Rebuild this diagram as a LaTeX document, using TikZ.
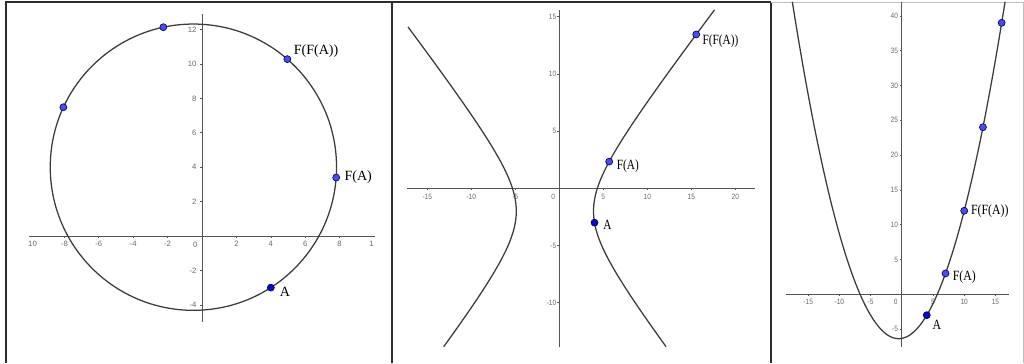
\documentclass[tikz,border=0pt]{standalone}
\usepackage{fontspec}
\setmainfont{Liberation Serif}
\setsansfont{Liberation Sans}
\usetikzlibrary{positioning}
\definecolor{curvegray}{RGB}{60,60,60}
\definecolor{axisgray}{RGB}{85,85,85}
\definecolor{numgray}{RGB}{105,105,105}
\definecolor{framegray}{RGB}{45,45,45}
\definecolor{ptblue}{RGB}{75,75,240}
\definecolor{ptdark}{RGB}{10,10,200}
\tikzset{
  curve/.style={draw=curvegray,line width=0.9pt},
  axis/.style={draw=axisgray,line width=0.45pt},
  num/.style={font=\sffamily\fontsize{5.5}{6}\selectfont,text=numgray,inner sep=0pt},
  pt/.style={circle,fill=#1,draw=black!60!blue,line width=0.45pt,inner sep=0pt,minimum size=1.75mm},
  pt/.default=ptblue,
  lbl/.style={font=\fontsize{10}{11}\selectfont,inner sep=0pt},
  frame/.style={draw=framegray,line width=1.4pt},
}
\begin{document}
\begin{tikzpicture}[x=0.025cm,y=0.025cm]
  \useasboundingbox (0,0) rectangle (1024,363);
  % panel frames
  \draw[frame] (6,0) -- (6,361) -- (771,361);
  \draw[frame] (392,0) -- (392,361);
  \draw[frame] (771,0) -- (771,361);
  \draw[black!25,line width=0.7pt] (771,361) -- (1023,361) -- (1023,0);

  % circle
  \begin{scope}[shift={(202,127)},x=0.43cm,y=0.43cm]
    \draw[axis] (-10.06,0) -- (10.06,0);
    \draw[axis] (0,-5) -- (0,12.9);
    \foreach \x in {-8,-6,-4,-2,2,4,6,8}{
      \draw[axis] (\x,0) -- ++(0,-0.05cm);
      \node[num] at ([yshift=-0.2cm]\x,0) {\x};
    }
    \node[num] at ([yshift=-0.2cm]-9.85,0) {10};
    \node[num] at ([yshift=-0.2cm]9.85,0) {1};
    \foreach \y in {-4,-2,2,4,6,8,10,12}{
      \draw[axis] (0,\y) -- ++(-0.05cm,0);
      \node[num,anchor=east] at ([xshift=-0.13cm]0,\y) {\y};
    }
    \node[num] at ([xshift=-0.17cm,yshift=-0.21cm]0,0) {0};
    \draw[curve] (-0.5,4) circle (8.32);
    \node[pt=ptdark] (cA) at (4,-3) {};
    \node[pt] (cF1) at (7.8,3.4) {};
    \node[pt] (cF2) at (4.96,10.28) {};
    \node[pt] (cF3) at (-2.248,12.136) {};
    \node[pt] (cF4) at (-8.058,7.483) {};
    \node[lbl,right=3.5pt of cA,yshift=-3pt] {A};
    \node[lbl,right=3pt of cF1] {F(A)};
    \node[lbl,above right=-1pt and 2.5pt of cF2] {F(F(A))};
  \end{scope}

  % hyperbola
  \begin{scope}[shift={(559.3,174.7)},x=0.22cm,y=0.286cm]
    \draw[axis] (-17.25,0) -- (22.2,0);
    \draw[axis] (0,-13.85) -- (0,15.6);
    \foreach \x in {-15,-10,-5,5,10,15,20}{
      \draw[axis] (\x,0) -- ++(0,-0.05cm);
      \node[num,xscale=0.85] at ([yshift=-0.21cm]\x,0) {\x};
    }
    \foreach \y in {-10,-5,5,10,15}{
      \draw[axis] (0,\y) -- ++(-0.05cm,0);
      \node[num,anchor=east,xscale=0.85] at ([xshift=-0.07cm]0,\y) {\y};
    }
    \node[num,xscale=0.85] at ([xshift=-0.15cm,yshift=-0.21cm]0,0) {0};
    \draw[curve,domain=-13.85:15.6,samples=120,variable=\t] plot ({-0.5+sqrt(19.25+(\t+2)^2)},\t);
    \draw[curve,domain=-13.85:14.1,samples=120,variable=\t] plot ({-0.5-sqrt(19.25+(\t+2)^2)},\t);
    \node[pt=ptdark] (hA) at (4,-3) {};
    \node[pt] (hF1) at (5.667,2.333) {};
    \node[pt] (hF2) at (15.556,13.444) {};
    \node[lbl,xscale=0.8,right=3.5pt of hA,yshift=-1.8pt] {A};
    \node[lbl,xscale=0.8,right=2.6pt of hF1,yshift=-3.5pt] {F(A)};
    \node[lbl,xscale=0.8,right=1.7pt of hF2,yshift=-5pt] {F(F(A))};
  \end{scope}

  % parabola
  \begin{scope}[shift={(901.8,68.7)},x=0.156cm,y=0.174cm]
    \draw[axis] (-18.56,0) -- (17.18,0);
    \draw[axis] (0,-7.53) -- (0,42);
    \foreach \x in {-15,-10,-5,5,10,15}{
      \draw[axis] (\x,0) -- ++(0,-0.05cm);
      \node[num,xscale=0.85] at ([yshift=-0.19cm]\x,0) {\x};
    }
    \foreach \y in {-5,5,10,...,40}{
      \draw[axis] (0,\y) -- ++(-0.05cm,0);
      \node[num,anchor=east,xscale=0.85] at ([xshift=-0.09cm]0,\y) {\y};
    }
    \node[num,xscale=0.85] at ([xshift=-0.15cm,yshift=-0.19cm]0,0) {0};
    \draw[curve,domain=-17.54:16.54,samples=120,variable=\t] plot (\t,{(\t*\t+\t)/6-19/3});
    \node[pt=ptdark] (pA) at (4,-3) {};
    \node[pt] (pF1) at (7,3) {};
    \node[pt] (pF2) at (10,12) {};
    \node[pt] (pF3) at (13,24) {};
    \node[pt] (pF4) at (16,39) {};
    \node[lbl,xscale=0.84,below right=1.5pt and 2pt of pA] {A};
    \node[lbl,xscale=0.84,right=2.3pt of pF1,yshift=-2.3pt] {F(A)};
    \node[lbl,xscale=0.84,right=2pt of pF2] {F(F(A))};
  \end{scope}
\end{tikzpicture}
\end{document}
